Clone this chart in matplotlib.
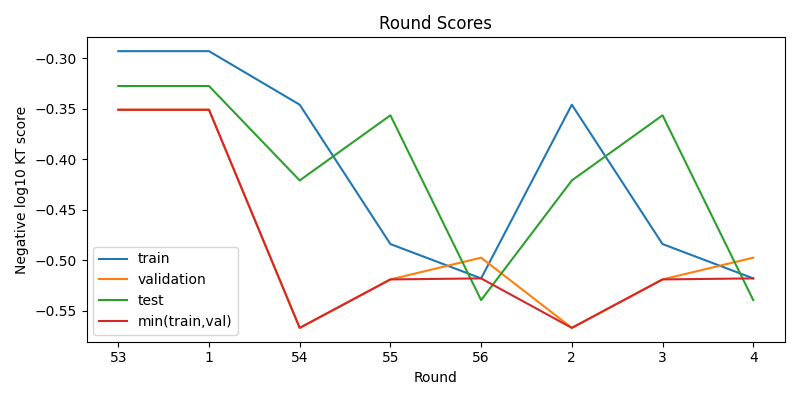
import numpy as np
from matplotlib import pyplot as plt

rounds = ['53', '1', '54', '55', '56', '2', '3', '4']
train = [-0.293, -0.293, -0.346, -0.484, -0.518, -0.346, -0.484, -0.518]
validation = [-0.351, -0.351, -0.567, -0.519, -0.4975, -0.567, -0.519, -0.4975]
test = [-0.3275, -0.3275, -0.421, -0.3565, -0.5395, -0.421, -0.3565, -0.5395]
min_train_val = list(np.minimum(train, validation))

fig = plt.figure(figsize=(8, 4), dpi=100)
x = np.arange(len(rounds))
plt.plot(x, train, label='train')
plt.plot(x, validation, label='validation')
plt.plot(x, test, label='test')
plt.plot(x, min_train_val, label='min(train,val)')

plt.xticks(x, rounds)
plt.title('Round Scores')
plt.xlabel('Round')
plt.ylabel('Negative log10 KT score')
plt.legend(loc='lower left')
plt.tight_layout()
plt.savefig('out.png')
